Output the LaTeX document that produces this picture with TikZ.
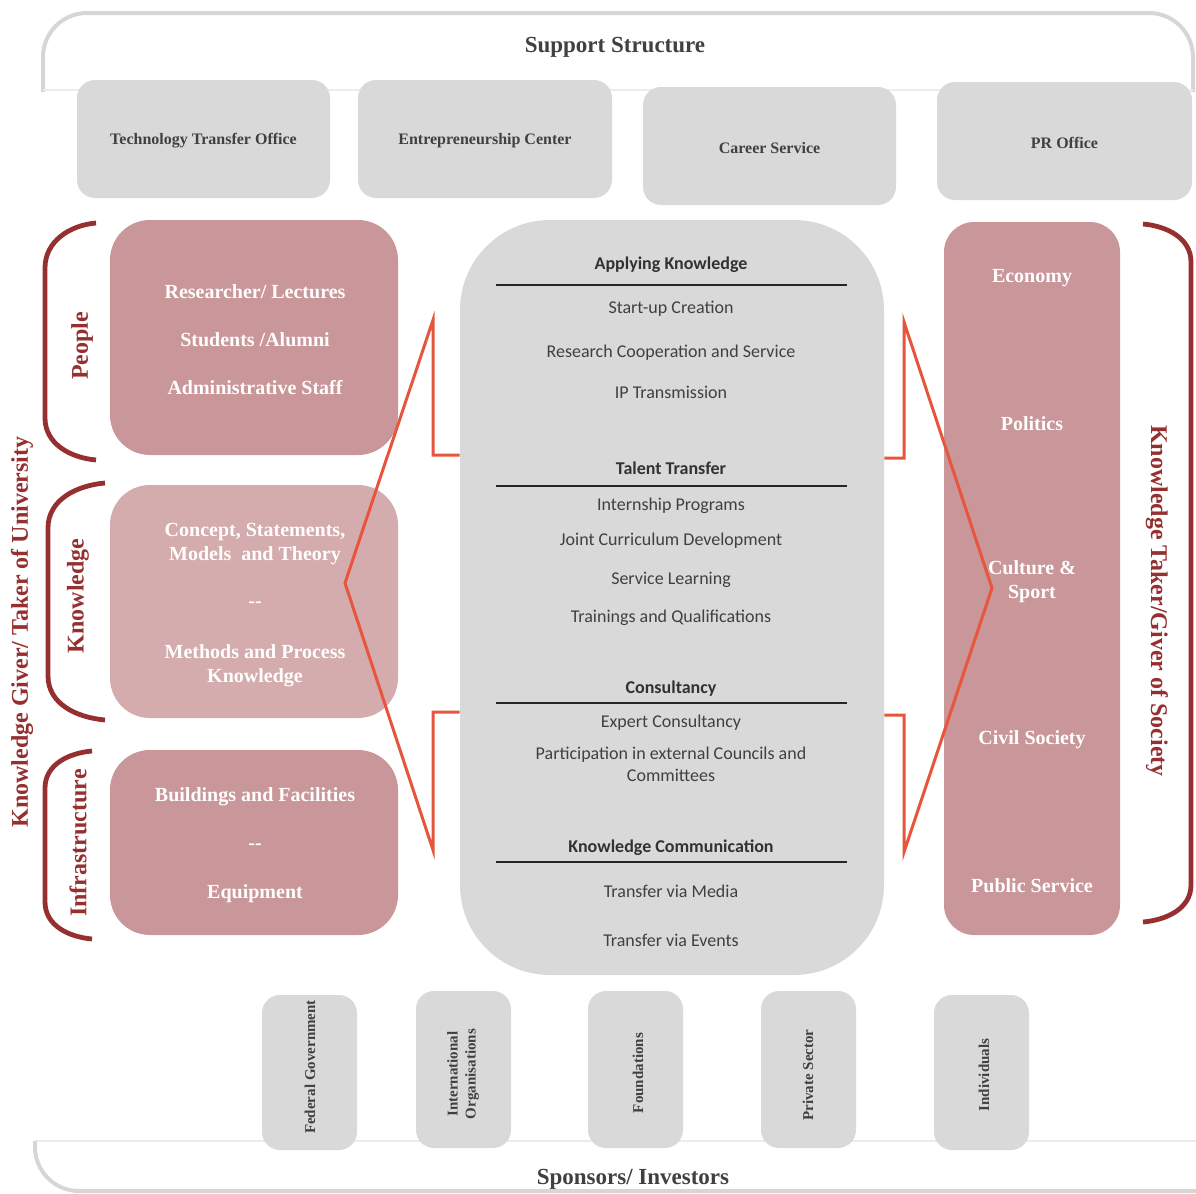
\documentclass[tikz,border=0pt]{standalone}
\usepackage{fontspec}
\setmainfont{Liberation Serif}
\newfontfamily\calib{Carlito}
\definecolor{boxgray}{RGB}{217,217,217}
\definecolor{framegray}{RGB}{214,214,214}
\definecolor{faintgray}{RGB}{236,236,236}
\definecolor{rose}{RGB}{201,151,153}
\definecolor{roselight}{RGB}{212,172,173}
\definecolor{bracketred}{RGB}{150,48,48}
\definecolor{arroworange}{RGB}{232,85,61}
\definecolor{txtgray}{RGB}{64,64,64}
\definecolor{hdrgray}{RGB}{50,50,50}
\begin{document}
\begin{tikzpicture}[x=0.5pt,y=-0.5pt,
  frame/.style={draw=framegray,line width=2pt},
  faint/.style={draw=faintgray,line width=0.6pt},
  title/.style={font=\fontsize{11.5}{13}\selectfont\bfseries,text=txtgray,inner sep=0pt,yshift=-1pt},
  graybox/.style={fill=boxgray,rounded corners=9pt,inner sep=0pt},
  suptxt/.style={font=\fontsize{8}{9}\selectfont\bfseries,text=txtgray,yshift=-1pt},
  rosebox/.style={fill=rose,rounded corners=20pt,inner sep=0pt},
  wtxt/.style={font=\fontsize{10}{12}\selectfont\bfseries,text=white,align=center,inner sep=0pt,yshift=-1pt},
  brk/.style={draw=bracketred,line width=2.4pt},
  brklab/.style={font=\fontsize{12}{14}\selectfont\bfseries,text=bracketred,inner sep=0pt},
  ctxt/.style={font=\calib\fontsize{9}{11}\selectfont,text=txtgray,align=center,inner sep=0pt,yshift=-1pt},
  chdr/.style={font=\calib\fontsize{9}{11}\selectfont\bfseries,text=hdrgray,inner sep=0pt,yshift=-1pt},
  hline/.style={draw=black!85,line width=1.2pt},
  arrowline/.style={draw=arroworange,line width=1.5pt,line join=miter},
  sptxt/.style={font=\fontsize{7.5}{9}\selectfont\bfseries,text=txtgray,align=center,rotate=90,inner sep=0pt}
]
\useasboundingbox (0,0) rectangle (1196,1194);

% ---------- Support structure frame ----------
\draw[frame,rounded corners=22pt] (43,92) |- (1193,13) -- (1193,92);
\draw[faint] (43,90) -- (1193,90);
\node[title] (supp) at (615,45) {Support Structure};

\node[graybox,minimum width=126.5pt,minimum height=59pt] (tto) at (203.5,139) {};
\node[suptxt] (ttot) at (tto) {Technology Transfer Office};
\node[graybox,minimum width=127pt,minimum height=59pt] (ent) at (485,139) {};
\node[suptxt] (entt) at (ent) {Entrepreneurship Center};
\node[graybox,minimum width=126.5pt,minimum height=59pt] (car) at (769.5,146) {};
\node[suptxt] (cart) at (car) {Career Service};
\node[graybox,minimum width=127.5pt,minimum height=59pt] (pr) at (1064.5,141) {};
\node[suptxt] (prt) at (pr) {PR Office};

% ---------- Left boxes ----------
\node[rosebox,minimum width=144pt,minimum height=117.5pt] (people) at (254,337.5) {};
\node[wtxt] (p1) at (255,290) {Researcher/ Lectures};
\node[wtxt] (p2) at (255,338) {Students /Alumni};
\node[wtxt] (p3) at (255,386) {Administrative Staff};

\node[rosebox,fill=roselight,minimum width=144pt,minimum height=116.5pt] (know) at (254,601.5) {};
\node[wtxt] (k1) at (255,542) {Concept, Statements,\\Models\ \ and Theory};
\node[wtxt] (k2) at (255,603) {-{}-};
\node[wtxt] (k3) at (255,663.5) {Methods and Process\\Knowledge};

\node[rosebox,minimum width=144pt,minimum height=92.5pt] (infra) at (254,842.5) {};
\node[wtxt] (i1) at (255,795) {Buildings and Facilities};
\node[wtxt] (i2) at (255,845) {-{}-};
\node[wtxt] (i3) at (255,892) {Equipment};

% ---------- Left brackets ----------
\draw[brk] (96,223) to[out=185,in=90] (45,268) -- (45,418) to[out=-90,in=175] (96,460);
\node[brklab,rotate=90] (lpeople) at (82,346) {People};
\draw[brk] (105,483) to[out=185,in=90] (48,528) -- (48,676) to[out=-90,in=175] (105,720);
\node[brklab,rotate=90] (lknow) at (78,596) {Knowledge};
\draw[brk] (92,751) to[out=185,in=90] (45,788) -- (45,902) to[out=-90,in=175] (92,939);
\node[brklab,rotate=90] (linfra) at (78,843) {Infrastructure};
\node[brklab,rotate=90] (luni) at (22,632) {Knowledge Giver/ Taker of University};

% ---------- Center box ----------
\node[graybox,rounded corners=45pt,minimum width=212pt,minimum height=377.5pt] (cbox) at (672,597.5) {};
\node[chdr] (h1) at (671,263) {Applying Knowledge};
\draw[hline] (496,285) -- (847,285);
\node[ctxt] (c11) at (671,307) {Start-up Creation};
\node[ctxt] (c12) at (671,351) {Research Cooperation and Service};
\node[ctxt] (c13) at (671,390) {IP Transmission};

\node[chdr] (h2) at (671,466) {Talent Transfer};
\draw[hline] (496,486) -- (847,486);
\node[ctxt] (c21) at (671,504) {Internship Programs};
\node[ctxt] (c22) at (671,539) {Joint Curriculum Development};
\node[ctxt] (c23) at (671,578) {Service Learning};
\node[ctxt] (c24) at (671,616) {Trainings and Qualifications};

\node[chdr] (h3) at (671,687) {Consultancy};
\draw[hline] (496,703) -- (847,703);
\node[ctxt] (c31) at (671,721) {Expert Consultancy};
\node[ctxt] (c32) at (671,762) {Participation in external Councils and\\Committees};

\node[chdr] (h4) at (671,846) {Knowledge Communication};
\draw[hline] (496,862) -- (847,862);
\node[ctxt] (c41) at (671,889) {Transfer via Media};
\node[ctxt] (c42) at (671,938) {Transfer via Events};

% ---------- Right box ----------
\node[rosebox,rounded corners=15pt,minimum width=88pt,minimum height=356.5pt] (soc) at (1032,578.5) {};
\node[wtxt] (s1) at (1032,276) {Economy};
\node[wtxt] (s2) at (1032,422) {Politics};
\node[wtxt] (s3) at (1032,580) {Culture \&\\Sport};
\node[wtxt] (s4) at (1032,738) {Civil Society};
\node[wtxt] (s5) at (1032,884) {Public Service};

\draw[brk] (1143,224) to[out=-5,in=90] (1191,262) -- (1191,885) to[out=-90,in=5] (1143,922);
\node[brklab,rotate=-90] (lsoc) at (1157,601) {Knowledge Taker/Giver of Society};

% ---------- Arrows ----------
\coordinate (la1) at (cbox.west |- 0,455);
\coordinate (la2) at (cbox.west |- 0,712);
\draw[arrowline] (la1) -- (433,455) -- (433,320) -- (345,583) -- (433,850) -- (433,712) -- (la2);
\coordinate (ra1) at (cbox.east |- 0,458);
\coordinate (ra2) at (cbox.east |- 0,715);
\draw[arrowline] (ra1) -- (904,458) -- (904,322) -- (992,588) -- (904,852) -- (904,715) -- (ra2);

% ---------- Sponsors ----------
\draw[faint] (35,1141) -- (1196,1141);
\draw[frame,rounded corners=22pt] (35,1141) |- (1200,1191);
\node[title] (spons) at (633,1177) {Sponsors/ Investors};

\node[graybox,minimum width=47.5pt,minimum height=77.5pt] (fed) at (309.5,1072.5) {};
\node[sptxt] (fedt) at (310,1067) {Federal Government};
\node[graybox,minimum width=47.5pt,minimum height=78.5pt] (intl) at (463.5,1069.5) {};
\node[sptxt] (intlt) at (463,1074) {International\\Organisations};
\node[graybox,minimum width=47.5pt,minimum height=78.5pt] (fou) at (635.5,1069.5) {};
\node[sptxt] (fout) at (638,1073) {Foundations};
\node[graybox,minimum width=47.5pt,minimum height=78.5pt] (pri) at (808.5,1069.5) {};
\node[sptxt] (prit) at (808,1075) {Private Sector};
\node[graybox,minimum width=47.5pt,minimum height=77.5pt] (ind) at (981.5,1072.5) {};
\node[sptxt] (indt) at (984,1075) {Individuals};
\end{tikzpicture}
\end{document}
